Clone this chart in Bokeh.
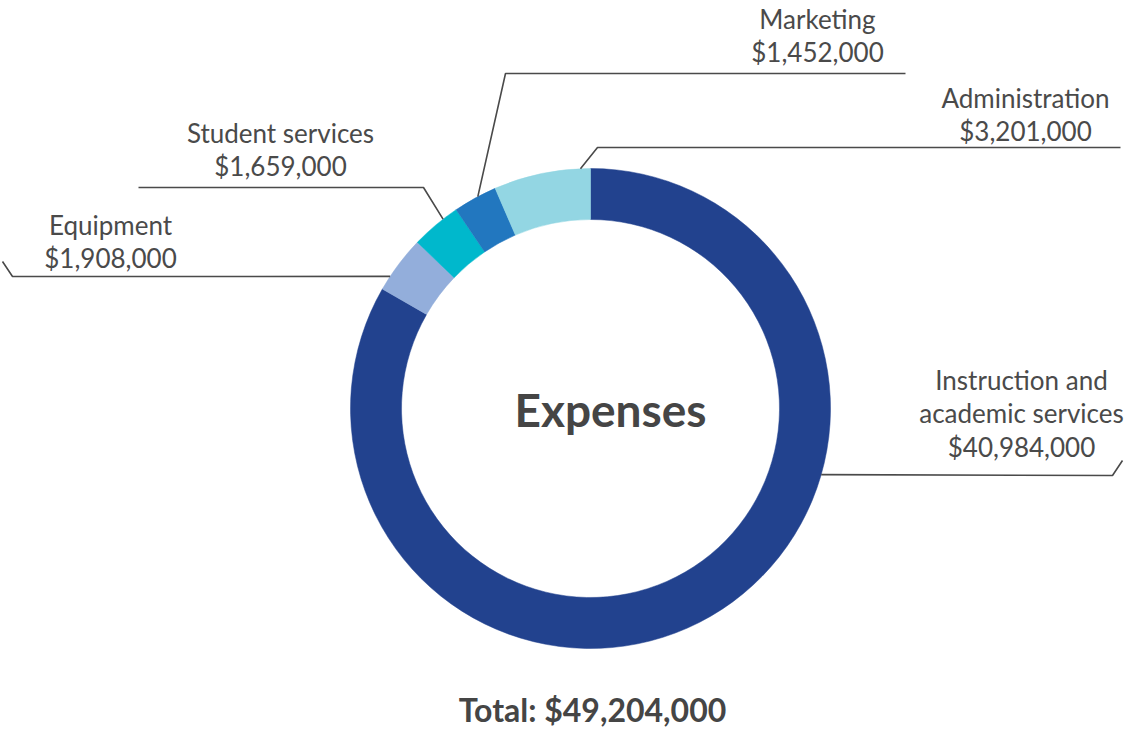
import math
from bokeh.plotting import figure
from bokeh.models import Range1d
from bokeh.core.properties import value
from bokeh.embed import file_html
from bokeh.resources import INLINE

# ---------------- data ----------------
categories = ["Instruction and academic services", "Equipment", "Student services",
              "Marketing", "Administration"]
values = [40984000, 1908000, 1659000, 1452000, 3201000]
colors = ["#22428E", "#93AEDB", "#00B8CC", "#2277BF", "#93D6E3"]
label_lines = [["Instruction and", "academic services"], ["Equipment"],
               ["Student services"], ["Marketing"], ["Administration"]]
center_title = "Expenses"

# ---------------- layout (pixel space, y downward) ----------------
H = 744
X0, X1 = 0, 1124
Y0, Y1 = 0, 728
CX, CY = 590, 408
R_OUT, R_IN = 240, 189
FONT = "Lato"
TXT = "#4A4A4A"
LINE = "#4A4A4A"
layout = {
    "Instruction and academic services": dict(ang=-16.0, pts=[(1112, 475), (1122, 460)], tx=1021, ty=379),
    "Equipment": dict(ang=146.6, pts=[(12, 276), (2, 261)], tx=110, ty=224),
    "Student services": dict(ang=127.9, pts=[(423, 187), (138, 187)], tx=280, ty=132),
    "Marketing": dict(ang=118.0, pts=[(505, 73), (905, 73)], tx=817, ty=18),
    "Administration": dict(ang=92.4, pts=[(597, 147), (1120, 147)], tx=1025, ty=97),
}
LSP = 33.5

def fy(y):
    return H - y

p = figure(width=X1 - X0, height=Y1 - Y0, output_backend="svg", toolbar_location=None,
           x_range=Range1d(X0, X1), y_range=Range1d(fy(Y1), fy(Y0)),
           min_border=0, outline_line_color=None, background_fill_color="white")
p.axis.visible = False
p.grid.visible = False

total = sum(values)
starts, ends = [], []
acc = 0
for v in values:
    starts.append(90 - acc / total * 360)
    acc += v
    ends.append(90 - acc / total * 360)

p.annular_wedge(x=[CX] * len(values), y=[fy(CY)] * len(values), inner_radius=R_IN,
                outer_radius=R_OUT, start_angle=starts, end_angle=ends,
                start_angle_units="deg", end_angle_units="deg", direction="clock",
                fill_color=colors, line_color=colors, line_width=0.5)

for cat, v, lines in zip(categories, values, label_lines):
    L = layout[cat]
    a = math.radians(L["ang"])
    sx = CX + R_OUT * math.cos(a)
    sy = CY - R_OUT * math.sin(a)
    xs = [sx] + [q[0] for q in L["pts"]]
    ys = [fy(sy)] + [fy(q[1]) for q in L["pts"]]
    p.line(xs, ys, line_color=LINE, line_width=1.6)
    all_lines = lines + ["${:,}".format(v)]
    p.text(x=[L["tx"]] * len(all_lines), y=[fy(L["ty"] + i * LSP) for i in range(len(all_lines))],
           text=all_lines, text_align="center", text_baseline="middle",
           text_font=value(FONT), text_font_size="26px", text_color=TXT)

p.text(x=[610], y=[fy(409)], text=[center_title], text_align="center", text_baseline="middle",
       text_font=value(FONT), text_font_style="bold", text_font_size="46px", text_color="#454545")
p.text(x=[592], y=[fy(709)], text=["Total: ${:,}".format(total)], text_align="center",
       text_baseline="middle", text_font=value(FONT), text_font_style="bold",
       text_font_size="32px", text_color="#454545")

open("out.html", "w").write(file_html(p, INLINE))
